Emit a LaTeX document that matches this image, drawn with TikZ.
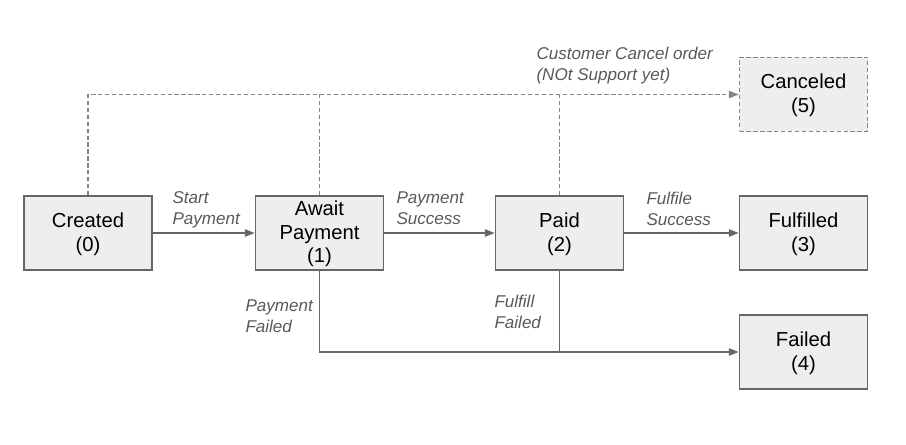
\documentclass[tikz,border=0pt]{standalone}
\usepackage{fontspec}
\setmainfont{Liberation Sans}
\usetikzlibrary{arrows.meta}
\definecolor{boxfill}{HTML}{EEEEEE}
\definecolor{lineclr}{HTML}{666666}
\definecolor{dashclr}{HTML}{858585}
\definecolor{lblclr}{HTML}{595959}
\tikzset{every picture/.style={line width=0.75pt}}

\begin{document}
\begin{tikzpicture}[x=0.75pt,y=0.75pt,yscale=-1,xscale=1,
  statebox/.style={draw=lineclr,fill=boxfill,line width=1.1pt,minimum width=96pt,minimum height=55.5pt,inner sep=0pt,align=center,font=\fontsize{15.2}{17.8}\selectfont},
  flow/.style={draw=lineclr,line width=1.1pt,-{Triangle[length=7.5pt,width=5.5pt]}},
  flowplain/.style={draw=lineclr,line width=1.1pt},
  dashflow/.style={draw=dashclr,line width=1.1pt,dash pattern={on 3.2pt off 2pt},-{Triangle[length=7.5pt,width=5.5pt]}},
  dashline/.style={draw=dashclr,line width=1.1pt,dash pattern={on 3.2pt off 2pt}},
  lbl/.style={text=lblclr,font=\fontsize{12.8}{15.5}\selectfont\itshape,align=left,inner sep=0pt,anchor=north west}]
\useasboundingbox (0,0) rectangle (906,445);

%Shape: Rectangle [states]
\node[statebox] (created) at (88,233) {\strut Created\\(0)};
\node[statebox] (await) at (319.5,233) {\strut Await\\Payment\\(1)};
\node[statebox] (paid) at (559.5,233) {\strut Paid\\(2)};
\node[statebox] (fulfilled) at (803.5,233) {\strut Fulfilled\\(3)};
\node[statebox] (failed) at (803.5,352) {\strut Failed\\(4)};
\node[statebox,draw=dashclr,dash pattern={on 3.2pt off 2pt}] (canceled) at (803.5,94.5) {\strut Canceled\\(5)};

%Straight Lines [main flow]
\draw[flow] (created) -- (await);
\draw[flow] (await) -- (paid);
\draw[flow] (paid) -- (fulfilled);

%Straight Lines [failures]
\draw[flow] (await.south) |- (failed.west);
\draw[flowplain] (paid.south) -- (paid.south |- failed.west);

%Straight Lines [cancel, dashed]
\draw[dashflow] (created.north) |- (canceled.west);
\draw[dashline] (await.north) -- (await.north |- canceled.west);
\draw[dashline] (paid.north) -- (paid.north |- canceled.west);

%Text labels
\node[lbl] (lblstart) at (172,191.5) {Start\\Payment};
\node[lbl] (lblpaysucc) at (396,191.5) {Payment\\Success};
\node[lbl] (lblfulsucc) at (646,191.5) {Fulfile\\Success};
\node[lbl] (lblcancel) at (536,46.5) {Customer Cancel order\\(NOt Support yet)};
\node[lbl] (lblpayfail) at (245,299.5) {Payment\\Failed};
\node[lbl] (lblfulfail) at (494,294.5) {Fulfill\\Failed};

\end{tikzpicture}
\end{document}
